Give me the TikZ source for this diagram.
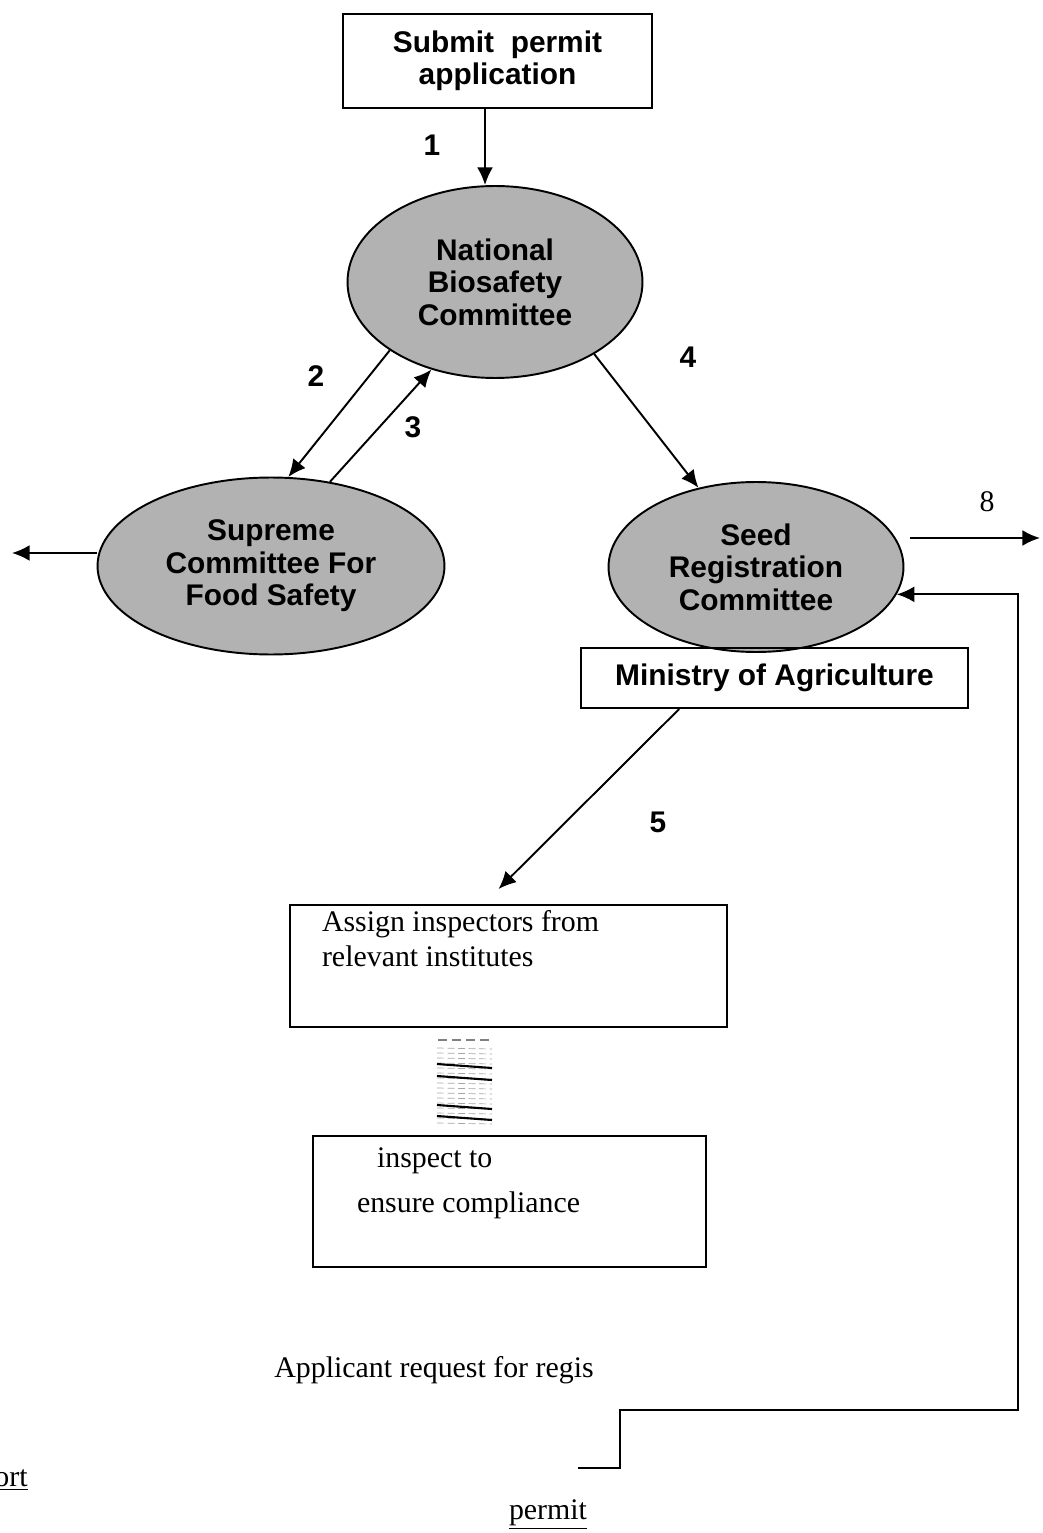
\documentclass[tikz,border=0pt]{standalone}
\usepackage{fontspec}
\setmainfont{Liberation Serif}
\setsansfont{Liberation Sans}
\usetikzlibrary{arrows.meta,shapes.geometric}

\tikzset{
  flow/.style={line width=1.1pt,-{Latex[length=10pt,width=9pt]}},
  committee/.style={ellipse,draw,line width=1.1pt,fill=black!30,inner sep=0pt,
    align=center,font=\sffamily\bfseries\fontsize{17}{18.5}\selectfont},
  headbox/.style={rectangle,draw,line width=1.1pt,inner sep=0pt,align=center,
    font=\sffamily\bfseries\fontsize{17}{18}\selectfont},
  taskbox/.style={rectangle,draw,line width=1.1pt,inner sep=0pt,
    font=\fontsize{17}{20}\selectfont},
  stepnum/.style={font=\sffamily\bfseries\fontsize{17}{17}\selectfont},
  plaintext/.style={inner sep=0pt,font=\fontsize{17}{17}\selectfont},
}

\begin{document}
\begin{tikzpicture}[x=0.02cm,y=-0.02cm]
  \useasboundingbox (0,0) rectangle (1042,1533);
  % Boxes and committees
  \node[headbox,minimum width=6.18cm,minimum height=1.88cm] (submit) at (497.5,61)
    {Submit~~permit\\application};
  \node[committee,minimum width=5.9cm,minimum height=3.84cm] (nbc) at (495,282)
    {National\\Biosafety\\Committee};
  \node[committee,minimum width=6.94cm,minimum height=3.54cm] (scfs) at (271,566)
    {Supreme\\Committee For\\Food Safety};
  \node[committee,minimum width=5.9cm,minimum height=3.4cm] (src) at (756,567)
    {Seed\\Registration\\Committee};
  \node[headbox,minimum width=7.74cm,minimum height=1.2cm] (moa) at (774.5,678)
    {Ministry of Agriculture};
  \node[taskbox] (assign) at (508.5,966)
    {\parbox[c][2.44cm][t]{8.74cm}{\vspace*{3pt}\hspace*{0.64cm}Assign inspectors from\\
      \hspace*{0.64cm}relevant institutes}};
  \node[taskbox] (inspect) at (509.5,1201.5)
    {\parbox[c][2.62cm][t]{7.86cm}{\vspace*{6.5pt}\hspace*{1.28cm}inspect to\\[5.5pt]
      \hspace*{0.88cm}ensure compliance}};
  % Scan residue between the boxes
  \foreach \yy in {1048,1053,...,1123}
    \draw[gray!70,line width=0.4pt,dash pattern=on 4pt off 2pt] (437,\yy) -- (492,\yy+1);
  \foreach \yy in {1064,1076,1105,1116}
    \draw[line width=1.2pt] (437,\yy) -- (492,\yy+4);
  \foreach \xx in {438,452,466,480}
    \draw[gray,line width=0.8pt] (\xx,1040) -- (\xx+9,1040);
  % Connectors
  \coordinate (fsout) at (12,553);
  \coordinate (out8) at (1040,538);
  \coordinate (fbend) at (578,1468);
  \coordinate (fbstep) at (620,1410);
  \coordinate (fbright) at (1018,1410);
  \draw[flow] ([xshift=-0.25cm]submit.south) -- ([xshift=-0.25cm]submit.south |- nbc.north);
  \draw[flow] (nbc.213) -- (scfs.79);
  \draw[flow] (scfs.55) -- (nbc.234);
  \draw[flow] (nbc.324) -- (src.126);
  \draw[flow] (scfs.west |- fsout) -- (fsout);
  \draw[flow] ([xshift=0.12cm]src.east |- out8) -- (out8);
  \draw[flow] (fbend) -| (fbstep) -| (fbright |- src.-11) -- (src.-11);
  \draw[flow] (moa.198) -- ([xshift=-0.2cm,yshift=0.3cm]assign.north);
  % Labels
  \node[stepnum] (n1) at (432,145) {1};
  \node[stepnum] (n2) at (316,376) {2};
  \node[stepnum] (n3) at (413,427) {3};
  \node[stepnum] (n4) at (688,357) {4};
  \node[stepnum] (n5) at (658,822) {5};
  \node[plaintext] (n8) at (987,502) {8};
  \node[plaintext,anchor=west] (req) at (274,1370) {Applicant request for regis};
  \node[plaintext,anchor=east] (ort) at (28,1480) {\underline{ort}};
  \node[plaintext] (permit) at (548,1515) {\underline{permit}};
\end{tikzpicture}
\end{document}
